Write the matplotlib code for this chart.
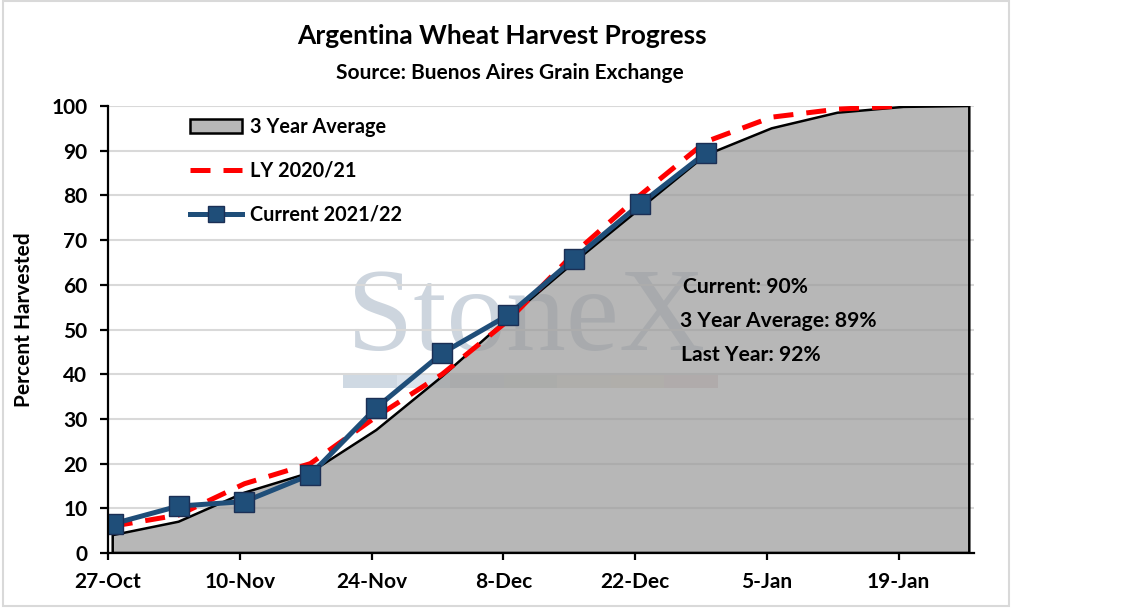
import matplotlib
matplotlib.use("Agg")
import matplotlib.pyplot as plt
import matplotlib.dates as mdates
from matplotlib.patches import Patch, Rectangle
from matplotlib.lines import Line2D
import pandas as pd

# ---------------- data ----------------
avg_dates = ["2021-10-27", "2021-11-03", "2021-11-10", "2021-11-17", "2021-11-24",
             "2021-12-01", "2021-12-08", "2021-12-15", "2021-12-22", "2021-12-29",
             "2022-01-05", "2022-01-12", "2022-01-19", "2022-01-26"]
avg_values = [4, 7, 13.5, 18, 27.5, 39.5, 52.5, 65, 77, 89, 95, 98.5, 99.8, 100]

ly_dates = avg_dates[:13]
ly_values = [6, 8.5, 15.5, 20, 30.5, 40, 52, 67, 80, 92, 97.5, 99.3, 100]

cur_dates = avg_dates[:10]
cur_values = [6.5, 10.5, 11.5, 17.5, 32.5, 44.7, 53.2, 65.8, 78, 89.5]

tick_dates = ["2021-10-27", "2021-11-10", "2021-11-24", "2021-12-08",
              "2021-12-22", "2022-01-05", "2022-01-19"]
y_ticks = [0, 10, 20, 30, 40, 50, 60, 70, 80, 90, 100]

title = "Argentina Wheat Harvest Progress"
subtitle = "Source: Buenos Aires Grain Exchange"
notes = ["Current: 90%", "3 Year Average: 89%", "Last Year: 92%"]
series_names = ["3 Year Average", "LY 2020/21", "Current 2021/22"]
y_label = "Percent Harvested"

# ---------------- style ----------------
FONT = ["Lato", "DejaVu Sans"]
plt.rcParams["font.family"] = FONT
plt.rcParams["font.weight"] = "bold"

W, H = 1137, 608
fig = plt.figure(figsize=(W / 100, H / 100), dpi=100)
fig.patch.set_facecolor("white")

# figure border
fig.add_artist(Rectangle((3 / W, 1 - 606 / H), 1006 / W, 605 / H,
                         transform=fig.transFigure, fill=False,
                         edgecolor="#d9d9d9", linewidth=1.5))

ax_l, ax_r, ax_t, ax_b = 108, 974, 106, 553
ax = fig.add_axes([ax_l / W, 1 - ax_b / H, (ax_r - ax_l) / W, (ax_b - ax_t) / H])

half_day = pd.Timedelta(hours=12)
xa = pd.to_datetime(avg_dates) + half_day
xl = pd.to_datetime(ly_dates) + half_day
xc = pd.to_datetime(cur_dates) + half_day

# watermark (behind the semi-transparent area)
ax.text((526 - ax_l) / (ax_r - ax_l), (ax_b - 350) / (ax_b - ax_t), "StoneX",
        transform=ax.transAxes, fontsize=86,
        family=["Liberation Serif", "DejaVu Serif"], fontweight="normal",
        color="#cdd5de", ha="center", va="baseline", zorder=0.5)
bar_cols = ["#cfd9e3", "#dbe3ec", "#d4d7da", "#d6d9d5", "#e4e0d6", "#e7e0d4", "#e8d6d6"]
bx0 = (343 - ax_l) / (ax_r - ax_l)
bw = (718 - 343) / (ax_r - ax_l) / len(bar_cols)
by0 = (ax_b - 388) / (ax_b - ax_t)
bh = 13 / (ax_b - ax_t)
for i, c in enumerate(bar_cols):
    ax.add_patch(Rectangle((bx0 + i * bw, by0), bw, bh, transform=ax.transAxes,
                           facecolor=c, edgecolor="none", zorder=0.5))

# area
ax.fill_between(xa, 0, avg_values, facecolor="#999999", alpha=0.7,
                edgecolor="none", zorder=1)
ax.fill_between(xa, 0, avg_values, facecolor="none", edgecolor="black",
                linewidth=1.8, zorder=2)

# last year
ax.plot(xl, ly_values, color="#ff0000", linewidth=3.6, dashes=(4, 2.6),
        solid_capstyle="butt", dash_capstyle="butt", zorder=3)
# current
ax.plot(xc, cur_values, color="#1f4e79", linewidth=3.6, marker="s",
        markersize=14.5, markerfacecolor="#1f4e79", markeredgecolor="#1b2f55",
        markeredgewidth=1.0, zorder=4)

# axes
ax.set_ylim(0, 100)
ax.set_xlim(pd.Timestamp("2021-10-27"), pd.Timestamp("2022-01-27"))
ax.set_yticks(y_ticks)
ax.set_xticks(pd.to_datetime(tick_dates))
ax.xaxis.set_major_formatter(mdates.DateFormatter("%-d-%b"))
ax.yaxis.grid(True, color="#d9d9d9", linewidth=1.5, zorder=0)
ax.set_axisbelow(True)
for s in ["top", "right"]:
    ax.spines[s].set_visible(False)
for s in ["left", "bottom"]:
    ax.spines[s].set_color("black")
    ax.spines[s].set_linewidth(1.6)
    ax.spines[s].set_zorder(5)
ax.tick_params(axis="y", length=5.8, width=1.6, pad=9, labelsize=15)
ax.tick_params(axis="x", length=5, width=1.6, pad=9, labelsize=15)
for lab in ax.get_xticklabels() + ax.get_yticklabels():
    lab.set_fontweight("bold")

fig.text(24 / W, 1 - 320 / H, y_label, rotation=90, ha="center", va="center",
         fontsize=15, fontweight="bold")

# titles
fig.text(502 / W, 1 - 36 / H, title, ha="center", va="center",
         fontsize=19, fontweight="bold")
fig.text(510 / W, 1 - 73 / H, subtitle, ha="center", va="center",
         fontsize=15, fontweight="bold")

# notes
for i, t in enumerate(notes):
    fig.text([683, 680, 681][i] / W, 1 - (287 + 34 * i) / H, t,
             ha="left", va="center", fontsize=15.2, fontweight="bold")

# legend
handles = [
    Patch(facecolor="#b7b7b7", edgecolor="black", linewidth=1.8),
    Line2D([], [], color="#ff0000", linewidth=3.6, dashes=(4, 2.6)),
    Line2D([], [], color="#1f4e79", linewidth=3.6, marker="s", markersize=12,
           markerfacecolor="#1f4e79", markeredgecolor="#1b2f55"),
]
leg = ax.legend(handles, series_names, loc="upper left",
                bbox_to_anchor=(190 / W, 1 - 117 / H),
                bbox_transform=fig.transFigure, frameon=False,
                fontsize=14.3, handlelength=2.6, handletextpad=0.4,
                labelspacing=1.2, borderpad=0, borderaxespad=0)
for t in leg.get_texts():
    t.set_fontweight("bold")

fig.savefig("out.png", dpi=100)
